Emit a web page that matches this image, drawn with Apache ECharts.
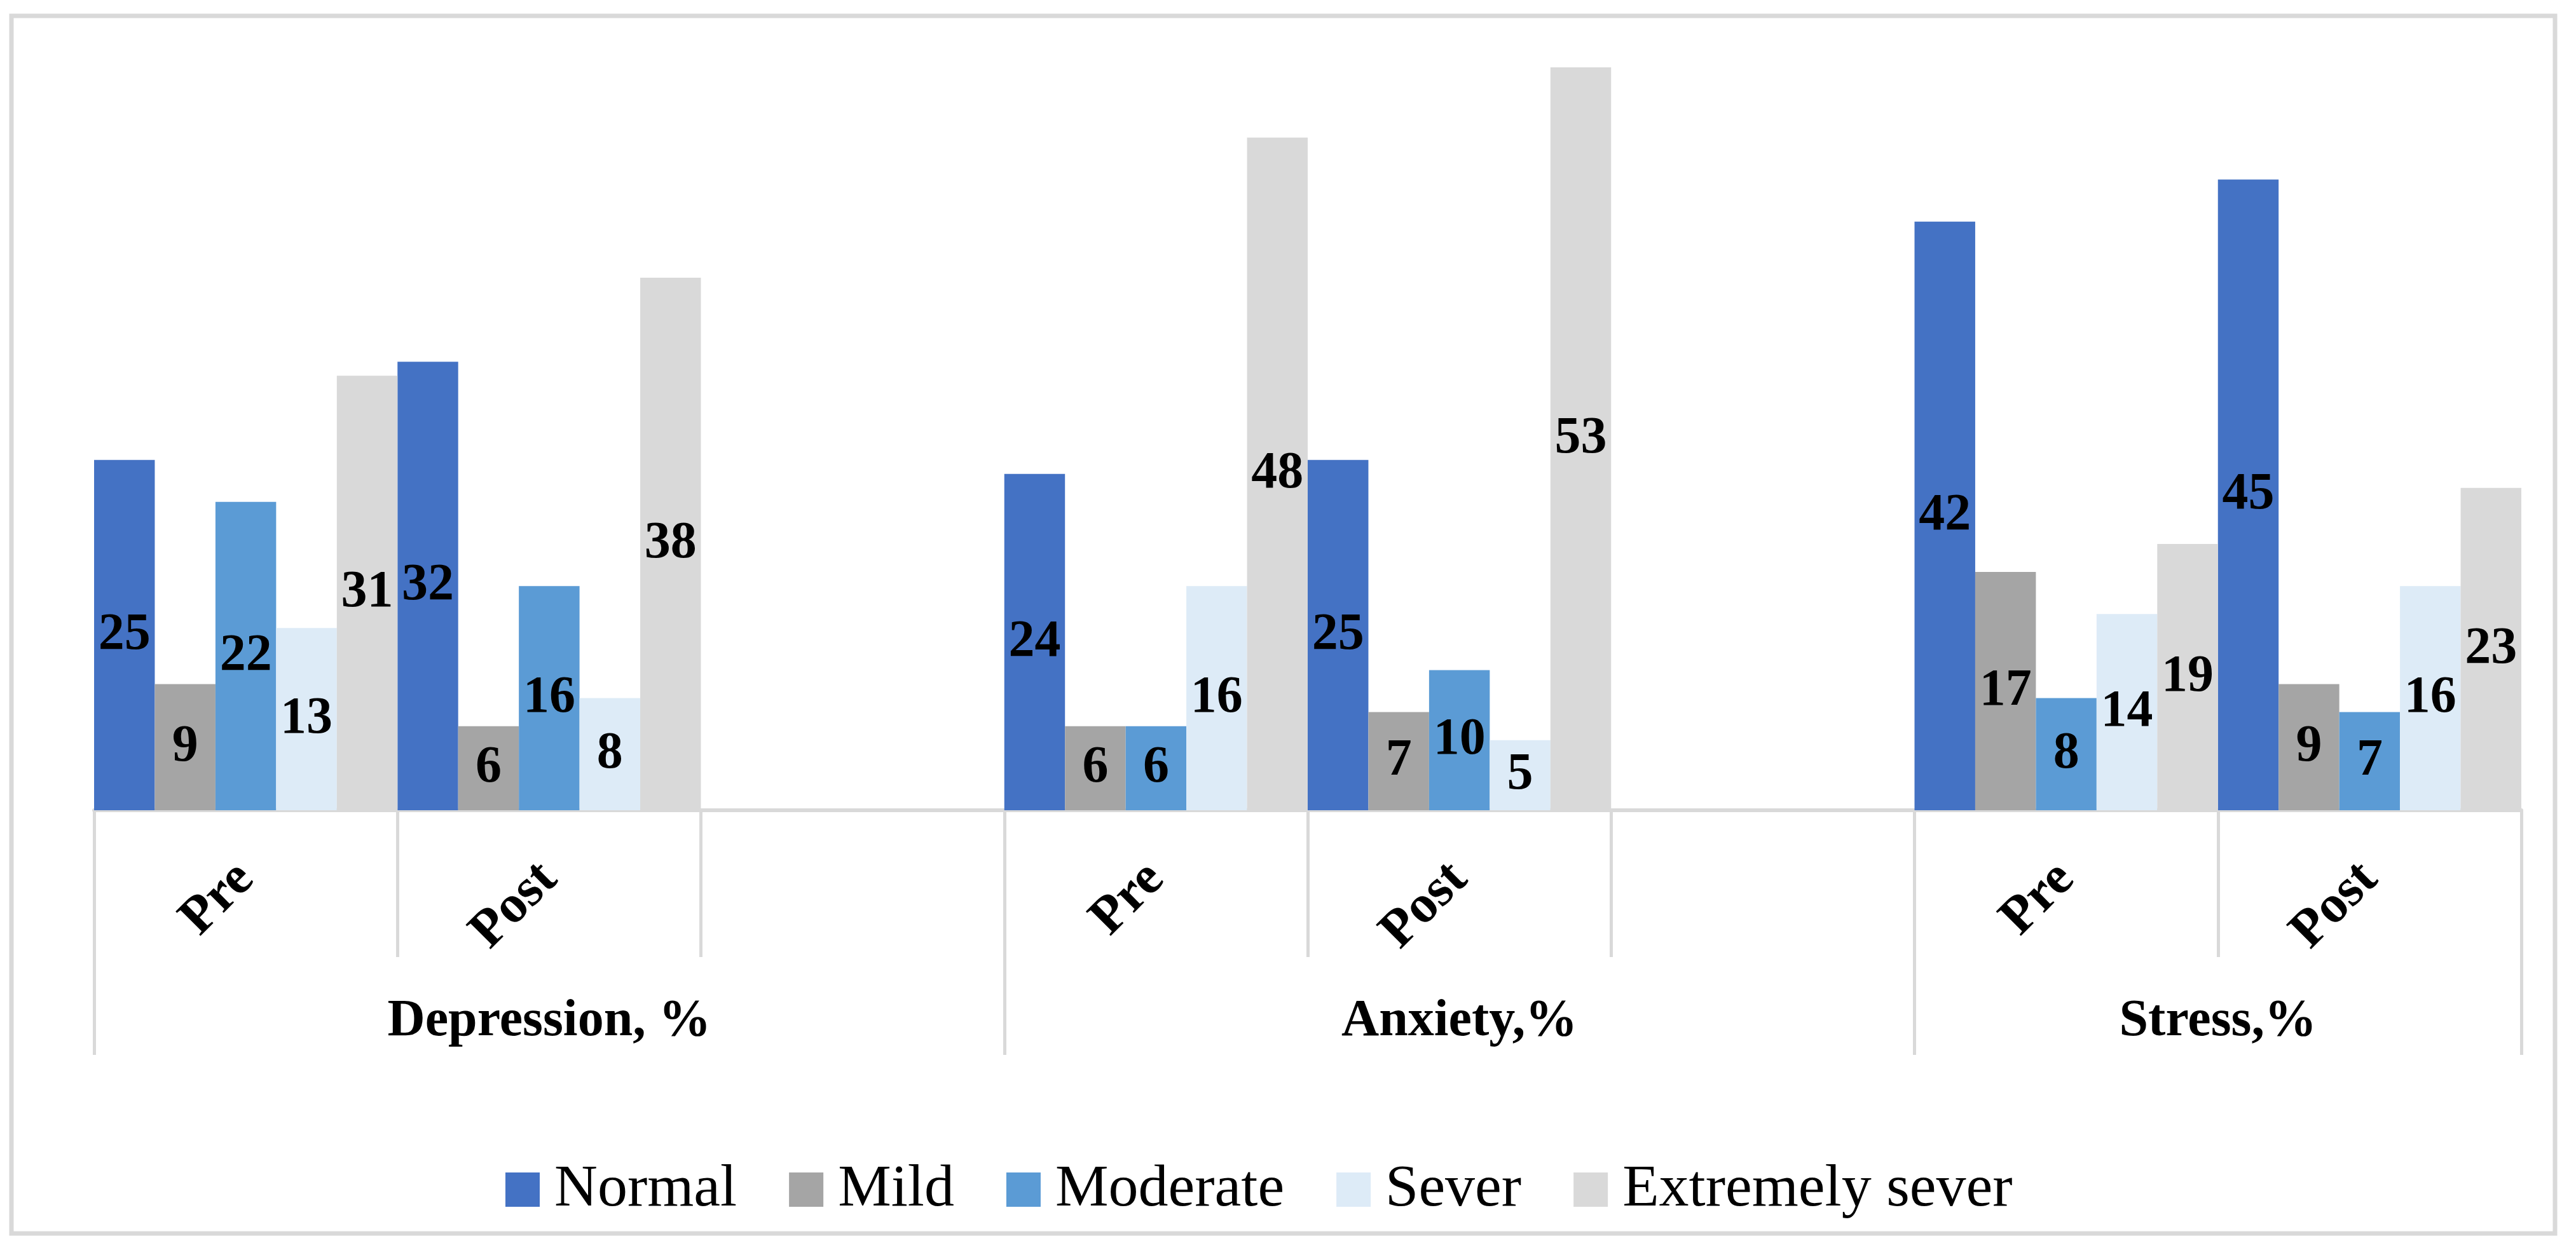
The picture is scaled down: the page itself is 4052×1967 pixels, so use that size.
<!DOCTYPE html>
<html>
<head>
<meta charset="utf-8">
<script src="https://cdn.jsdelivr.net/npm/echarts@6/dist/echarts.min.js"></script>
<style>
html,body{margin:0;padding:0;background:#fff;}
#chart{width:4052px;height:1967px;}
</style>
</head>
<body>
<div id="chart"></div>
<script>
// ---- data ----
const categories = ['Pre', 'Post', '', 'Pre', 'Post', '', 'Pre', 'Post'];
const groupNames = ['Depression, %', 'Anxiety,%', 'Stress,%'];
const groupCenters = [1.5, 4.5, 7];
const groupBounds = [0, 3, 6, 8];
const seriesNames = ['Normal', 'Mild', 'Moderate', 'Sever', 'Extremely sever'];
const normal   = [25, 32, null, 24, 25, null, 42, 45];
const mild     = [9, 6, null, 6, 7, null, 17, 9];
const moderate = [22, 16, null, 6, 10, null, 8, 7];
const sever    = [13, 8, null, 16, 5, null, 14, 16];
const extreme  = [31, 38, null, 48, 53, null, 19, 23];
const colors = ['#4472C4', '#A5A5A5', '#5B9BD5', '#DDEBF7', '#D9D9D9'];

const FONT = '"Liberation Serif", "Times New Roman", serif';
const values = [normal, mild, moderate, sever, extreme];

const chart = echarts.init(document.getElementById('chart'));
chart.setOption({
  animation: false,
  backgroundColor: '#fff',
  color: colors,
  graphic: [{
    type: 'rect',
    silent: true,
    shape: { x: 18, y: 25, width: 4001, height: 1916 },
    style: { fill: 'none', stroke: '#D9D9D9', lineWidth: 7 }
  }],
  grid: { left: 148, right: 86, top: 62, bottom: 692 },
  legend: {
    data: seriesNames,
    left: 790,
    top: 1820,
    icon: 'rect',
    itemWidth: 54,
    itemHeight: 54,
    itemGap: 82,
    textStyle: { fontFamily: FONT, fontSize: 94, color: '#000', padding: [0, 0, 0, 18] }
  },
  xAxis: [{
    type: 'category',
    data: categories,
    position: 'bottom',
    axisLine: { show: true, lineStyle: { color: '#D9D9D9', width: 6 } },
    axisTick: { show: true, interval: 0, length: 231, lineStyle: { color: '#D9D9D9', width: 5 } },
    axisLabel: {
      interval: 0, rotate: 45, margin: 96,
      fontFamily: FONT, fontSize: 84, fontWeight: 'bold', color: '#000'
    }
  }, {
    type: 'value',
    min: 0, max: 8,
    position: 'bottom',
    axisLine: { show: false },
    splitLine: { show: false },
    axisTick: { show: true, customValues: groupBounds, length: 385, lineStyle: { color: '#D9D9D9', width: 5 } },
    axisLabel: {
      customValues: groupCenters,
      margin: 292,
      fontFamily: FONT, fontSize: 82, fontWeight: 'bold', color: '#000',
      formatter: function (v) {
        const i = groupCenters.indexOf(v);
        return i >= 0 ? groupNames[i] : '';
      }
    }
  }],
  yAxis: { type: 'value', min: 0, max: 55, show: false, splitLine: { show: false } },
  series: seriesNames.map(function (name, i) {
    return {
      name: name,
      type: 'bar',
      xAxisIndex: 0,
      data: values[i],
      barGap: '0%',
      barCategoryGap: '0%',
      itemStyle: { color: colors[i] },
      label: {
        show: true, position: 'inside',
        fontFamily: FONT, fontSize: 82, fontWeight: 'bold', color: '#000',
        textBorderWidth: 0
      }
    };
  })
});
</script>
</body>
</html>
